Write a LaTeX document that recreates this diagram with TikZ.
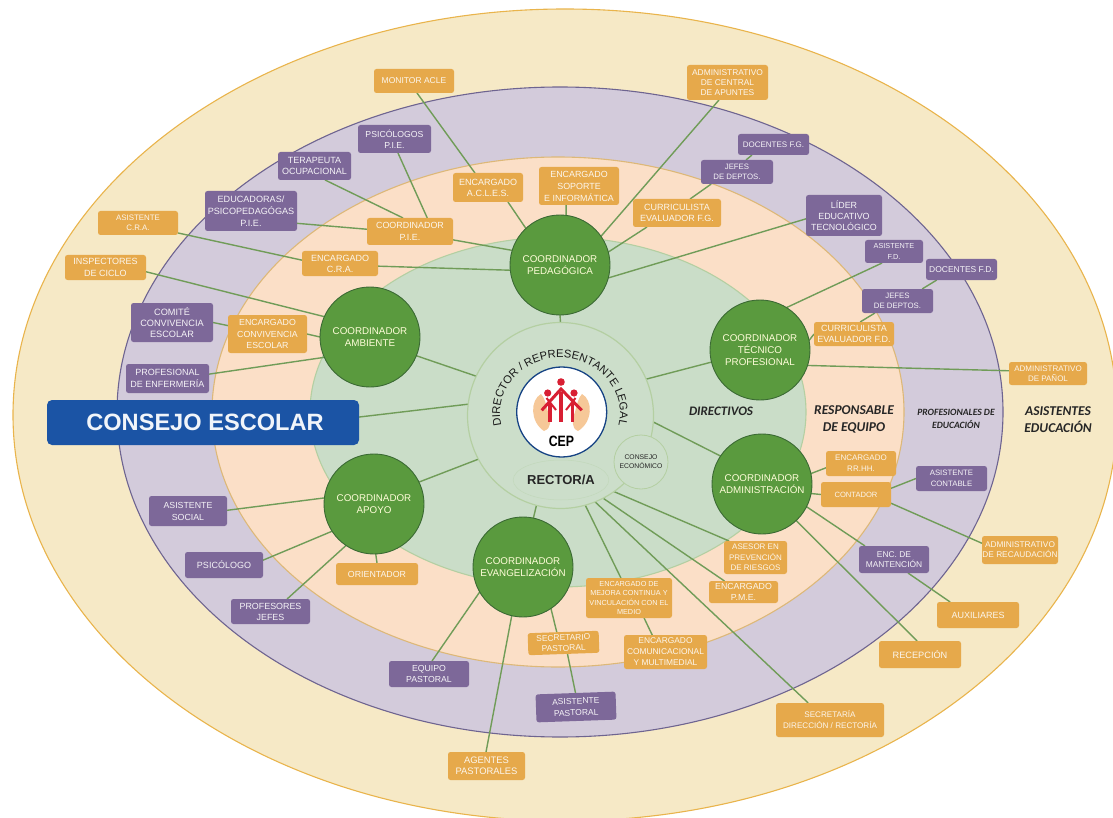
\documentclass[tikz,border=0pt]{standalone}
\usepackage{fontspec}
\setmainfont{Liberation Sans}
\newfontfamily\calib{Carlito}
\usetikzlibrary{shapes.geometric,decorations.text}
\pgfdeclarelayer{rings}
\pgfdeclarelayer{links}
\pgfsetlayers{rings,links,main}
\definecolor{cOut}{HTML}{F6E9C6}\definecolor{cOutL}{HTML}{E9B44C}
\definecolor{cPur}{HTML}{D3CBDB}\definecolor{cPurL}{HTML}{6E6490}
\definecolor{cPea}{HTML}{FBDFC7}\definecolor{cPeaL}{HTML}{DDB878}
\definecolor{cGre}{HTML}{CADDC8}\definecolor{cGreL}{HTML}{B4CFA2}
\definecolor{cOrg}{HTML}{E6A94B}\definecolor{cVio}{HTML}{7D6899}
\definecolor{cCirc}{HTML}{5A9A3E}\definecolor{cCircL}{HTML}{3B6A34}
\definecolor{cLink}{HTML}{709C58}\definecolor{cBlue}{HTML}{1B54A5}
\definecolor{cRed}{HTML}{D81F33}\definecolor{cHand}{HTML}{F6C898}
\tikzset{
  fs/.style 2 args={font=\fontsize{#1}{#2}\selectfont},
  boxbase/.style={rounded corners=2.5pt,inner sep=0pt,outer sep=0pt,align=center},
  obox/.style={boxbase,fill=cOrg,text=white!90!cOrg},
  pbox/.style={boxbase,fill=cVio,text=white!92!cVio},
  coordcirc/.style={circle,fill=cCirc,draw=cCircL,line width=.9pt,minimum size=100pt,inner sep=0pt,outer sep=0pt,align=center,text=white!85!yellow,fs={9.8}{12}},
  link/.style={draw=cLink,line width=1.4pt},
  ring/.style={line width=1.1pt},
  tag/.style={align=center,text=black!85,inner sep=0pt,font=\calib\bfseries\itshape\fontsize{13.5}{17}\selectfont},
}
\newcommand{\myBox}[7]{\node[#1,minimum width=#5pt,minimum height=#6pt] (#2) at (#3,#4) {#7};}
\begin{document}
\begin{tikzpicture}[x=1pt,y=-1pt]
\useasboundingbox (0,0) rectangle (1113,818);
\begin{pgfonlayer}{rings}
\begin{scope}
\clip (0,0) rectangle (1113,818);
\draw[ring,fill=cOut,draw=cOutL] (565,415) ellipse [x radius=552,y radius=406];
\draw[ring,fill=cPur,draw=cPurL] (560,412) ellipse [x radius=443,y radius=325];
\draw[ring,fill=cPea,draw=cPeaL] (558,412) ellipse [x radius=346,y radius=255];
\draw[ring,fill=cGre,draw=cGreL] (558,412) ellipse [x radius=248,y radius=175];
\end{scope}
\end{pgfonlayer}

% centre
\node[circle,minimum size=186pt,inner sep=0pt,outer sep=0pt,fill=cGre!96!white,draw=cGreL,line width=1.2pt] (dir) at (560.5,415.5) {};
\node[ellipse,minimum width=86pt,minimum height=40pt,inner sep=0pt,outer sep=0pt,draw=cGreL!35!cGre,line width=.5pt,fill=cGre!96!white,text=black!85,font=\bfseries\fontsize{13}{15}\selectfont] (rect) at (561,480) {RECTOR/A};
\node[circle,minimum size=54pt,inner sep=0pt,outer sep=0pt,draw=cGreL,line width=.8pt,fill=cGre!96!white,align=center,text=black!85,fs={6.8}{9}] (eco) at (641,462) {CONSEJO\\ECONÓMICO};
\node[circle,minimum size=90pt,inner sep=0pt,fill=white,draw=cBlue!80!black,line width=1.3pt] (logo) at (561.7,412) {};
% logo
\fill[cHand] (541,394) .. controls (530,400) and (530,422) .. (544,431) .. controls (552,428) and (551,420) .. (548,412) .. controls (546,405) and (545,398) .. (541,394) -- cycle;
\fill[cHand] (582,394) .. controls (593,400) and (593,422) .. (578,431) .. controls (571,428) and (572,420) .. (575,412) .. controls (577,405) and (578,398) .. (582,394) -- cycle;
\fill[cRed] (561,382) circle [radius=3.8];
\fill[cRed] (547.7,393) circle [radius=3.6];
\fill[cRed] (574,393) circle [radius=3.6];
\draw[cRed,line width=3pt] (541.7,410.3) -- (561,389) -- (581.7,410.3);
\draw[cRed,line width=3.2pt] (561,392) -- (561,422);
\draw[cRed,line width=3.2pt] (550,403) -- (550,422);
\draw[cRed,line width=3.2pt] (572.7,403) -- (572.7,422);
\draw[cRed,line width=2pt] (546.5,398) -- (556,410);
\draw[cRed,line width=2pt] (575.5,398) -- (566,410);
\node[inner sep=0pt,font=\bfseries\fontsize{15}{16}\selectfont] (cep) at (561.5,441) {\scalebox{.82}[1]{CEP}};
\path[decorate,decoration={text along path,text align=center,text={|\fontsize{11.2}{12}\selectfont\color{black!90}|DIRECTOR / REPRESENTANTE LEGAL}}]
  (508,440.5) arc [start angle=150,end angle=390,x radius=60,y radius=55];

% coordinators
\node[coordcirc] (ped) at (560,265) {COORDINADOR\\PEDAGÓGICA};
\node[coordcirc] (tec) at (760,350) {COORDINADOR\\TÉCNICO\\PROFESIONAL};
\node[coordcirc] (adm) at (762,484) {COORDINADOR\\ADMINISTRACIÓN};
\node[coordcirc] (eva) at (523,567) {COORDINADOR\\EVANGELIZACIÓN};
\node[coordcirc] (apo) at (374,504) {COORDINADOR\\APOYO};
\node[coordcirc] (amb) at (370,337) {COORDINADOR\\AMBIENTE};

% orange boxes
\myBox{obox,fs={8.5}{10}}{mon}{414}{81}{80}{24}{MONITOR ACLE}
\myBox{obox,fs={8.4}{10}}{central}{727.5}{82.5}{81}{35}{ADMINISTRATIVO\\DE CENTRAL\\DE APUNTES}
\myBox{obox,fs={7.9}{10}}{acra}{138}{223}{80}{24}{ASISTENTE\\C.R.A.}
\myBox{obox,fs={9}{12}}{insp}{105.5}{267.5}{81}{25}{INSPECTORES\\DE CICLO}
\myBox{obox,fs={9}{11}}{ecra}{340}{263.5}{76}{25}{ENCARGADO\\C.R.A.}
\myBox{obox,fs={8.9}{12}}{pie}{410}{231.5}{86}{27}{COORDINADOR\\P.I.E.}
\myBox{obox,fs={9}{11}}{acles}{488}{187.5}{70}{29}{ENCARGADO\\A.C.L.E.S.}
\myBox{obox,fs={8.9}{12}}{sop}{579}{186}{80}{38}{ENCARGADO\\SOPORTE\\E INFORMÁTICA}
\myBox{obox,fs={9}{11}}{cfg}{677}{213}{88}{28}{CURRICULISTA\\EVALUADOR F.G.}
\myBox{obox,fs={8.8}{11.5}}{conv}{267.5}{334}{79}{38}{ENCARGADO\\CONVIVENCIA\\ESCOLAR}
\myBox{obox,fs={9}{11}}{cfd}{854}{334}{80}{24}{CURRICULISTA\\EVALUADOR F.D.}
\myBox{obox,fs={8}{10}}{panol}{1048}{373.5}{78}{23}{ADMINISTRATIVO\\DE PAÑOL}
\myBox{obox,fs={8}{11}}{rrhh}{861}{463.5}{70}{25}{ENCARGADO\\RR.HH.}
\myBox{obox,fs={7.6}{10}}{cont}{856}{494.5}{70}{25}{CONTADOR}
\myBox{obox,fs={8.3}{10}}{recaud}{1020}{550}{76}{28}{ADMINISTRATIVO\\DE RECAUDACIÓN}
\myBox{obox,fs={8}{10.5}}{asesor}{755.5}{557.5}{63}{33}{ASESOR EN\\PREVENCIÓN\\DE RIESGOS}
\myBox{obox,fs={8.8}{10.5}}{pme}{743.5}{592}{69}{22}{ENCARGADO\\P.M.E.}
\myBox{obox,fs={9}{10}}{aux}{978}{615}{82}{26}{AUXILIARES}
\myBox{obox,fs={9.2}{10}}{recep}{920}{654.5}{82}{27}{RECEPCIÓN}
\myBox{obox,fs={8.1}{11}}{secr}{830}{720}{108}{34}{SECRETARÍA\\DIRECCIÓN / RECTORÍA}
\myBox{obox,fs={8.8}{10}}{orient}{377}{574}{82}{22}{ORIENTADOR}
\myBox{obox,fs={7.3}{9.6}}{mejora}{629}{598}{86}{40}{ENCARGADO DE\\MEJORA CONTINUA Y\\VINCULACIÓN CON EL\\MEDIO}
\myBox{obox,fs={8.4}{11}}{comun}{665.5}{652}{83}{34}{ENCARGADO\\COMUNICACIONAL\\Y MULTIMEDIAL}
\myBox{obox,fs={8.4}{10.5},rotate=2}{secp}{563.5}{643}{71}{22}{SECRETARIO\\PASTORAL}
\myBox{obox,fs={9.4}{11.5}}{agentes}{486.5}{766}{77}{28}{AGENTES\\PASTORALES}

% purple boxes
\myBox{pbox,fs={8.7}{11}}{psic}{394.5}{139}{73}{28}{PSICÓLOGOS\\P.I.E.}
\myBox{pbox,fs={9}{11}}{tera}{314.5}{166}{73}{28}{TERAPEUTA\\OCUPACIONAL}
\myBox{pbox,fs={9.1}{12}}{educ}{251}{211}{92}{40}{EDUCADORAS/\\PSICOPEDAGÓGAS\\P.I.E.}
\myBox{pbox,fs={9.2}{11}}{comite}{172}{322.5}{82}{39}{COMITÉ\\CONVIVENCIA\\ESCOLAR}
\myBox{pbox,fs={9}{12}}{enf}{167.5}{378.5}{83}{29}{PROFESIONAL\\DE ENFERMERÍA}
\myBox{pbox,fs={8}{10}}{dfg}{773.5}{144.5}{71}{21}{DOCENTES F.G.}
\myBox{pbox,fs={7.8}{9.5}}{jfg}{737}{172}{72}{24}{JEFES\\DE DEPTOS.}
\myBox{pbox,fs={8.9}{11}}{lider}{844}{215.5}{76}{41}{LÍDER\\EDUCATIVO\\TECNOLÓGICO}
\myBox{pbox,fs={7.3}{11}}{afd}{894}{251.5}{58}{23}{ASISTENTE\\F.D.}
\myBox{pbox,fs={8.5}{10}}{dfd}{961.5}{269.5}{71}{21}{DOCENTES F.D.}
\myBox{pbox,fs={7.8}{9.5}}{jfd}{897.5}{301}{71}{24}{JEFES\\DE DEPTOS.}
\myBox{pbox,fs={7.8}{11}}{acont}{951.5}{478.5}{71}{25}{ASISTENTE\\CONTABLE}
\myBox{pbox,fs={8.4}{10}}{mant}{894}{559.5}{70}{27}{ENC. DE\\MANTENCIÓN}
\myBox{pbox,fs={8.8}{12}}{asoc}{188}{511}{78}{30}{ASISTENTE\\SOCIAL}
\myBox{pbox,fs={9}{10}}{psi}{224}{565}{78}{26}{PSICÓLOGO}
\myBox{pbox,fs={8.9}{11}}{prof}{270.5}{611.5}{79}{25}{PROFESORES\\JEFES}
\myBox{pbox,fs={8.7}{10.5}}{equipo}{429}{674}{80}{26}{EQUIPO\\PASTORAL}
\myBox{pbox,fs={8.5}{11.5},rotate=2}{apas}{576}{707}{80}{28}{ASISTENTE\\PASTORAL}

% consejo
\node[rounded corners=5pt,fill=cBlue,text=white!94!cBlue,inner sep=0pt,outer sep=0pt,minimum width=312pt,minimum height=45pt,font=\bfseries\fontsize{23.6}{26}\selectfont] (cons) at (203,422.5) {\hspace{4pt}CONSEJO ESCOLAR};

% band labels
\node[tag,font=\calib\bfseries\itshape\fontsize{13}{17}\selectfont] (t1) at (721,411) {DIRECTIVOS};
\node[tag] (t2) at (854,419.5) {RESPONSABLE\\DE EQUIPO};
\node[tag,font=\calib\bfseries\itshape\fontsize{9.6}{13}\selectfont] (t3) at (956,418.5) {PROFESIONALES DE\\EDUCACIÓN};
\node[tag] (t4) at (1058,419.5) {ASISTENTES\\EDUCACIÓN};

% connectors
\begin{pgfonlayer}{links}
\draw[link] (mon.-76) -- (acles.132);
\draw[link] (acles.-36) -- (ped.133);
\draw[link] (sop.-124) -- (ped.83);
\draw[link] (central.-116) -- (ped.35);
\draw[link] (cfg.-155) -- (ped.15);
\draw[link] (cfg.47) -- (jfg.-155);
\draw[link] (jfg.53) -- (dfg.-154);
\draw[link] (lider.-175) -- (ped.-15);
\draw[link] (ped.-90) -- (dir.90);
\draw[link] (ecra.-4) -- (ped.-174);
\draw[link] (acra.-14) -- (ecra.175);
\draw[link] (pie.-11) -- (ped.163);
\draw[link] (educ.-15) -- (pie.177);
\draw[link] (tera.-53) -- (pie.117);
\draw[link] (psic.-76) -- (pie.38);
\draw[link] (insp.-6) -- (amb.156);
\draw[link] (comite.east) -- (conv.168);
\draw[link] (conv.east) -- (amb.west);
\draw[link] (enf.6) -- (amb.-156);
\draw[link] (amb.-22) -- (dir.155);
\draw[link] (cons.2) -- (dir.173.5);
\draw[link] (apo.26) -- (dir.-152);
\draw[link] (asoc.1) -- (apo.173);
\draw[link] (psi.7) -- (apo.-147);
\draw[link] (prof.37) -- (apo.-124);
\draw[link] (orient.north) -- (apo.-88);
\draw[link] (eva.78) -- (dir.-105);
\draw[link] (equipo.77) -- (eva.-150);
\draw[link] (agentes.92) -- (eva.-103);
\draw[link] (secp.120) -- (eva.-56);
\draw[link] (apas.north) -- (secp.-72);
\draw[link] (rect.-41) -- (mejora.112);
\draw[link] (mejora.-53) -- (comun.128);
\draw[link] (rect.-30) -- (secr.142);
\draw[link] (rect.-21) -- (pme.150);
\draw[link] (rect.-10) -- (asesor.148);
\draw[link] (dir.-63) -- (eco.-130);
\draw[link] (dir.23) -- (tec.-166.5);
\draw[link] (dir.-4.5) -- (adm.146);
\draw[link] (tec.11) -- (cfd.west);
\draw[link] (cfd.63) -- (jfd.-152);
\draw[link] (jfd.26) -- (dfd.-157);
\draw[link] (afd.-136) -- (tec.58);
\draw[link] (tec.-18) -- (panol.176);
\draw[link] (adm.12) -- (rrhh.-173);
\draw[link] (adm.-11) -- (cont.west);
\draw[link] (cont.10) -- (acont.west);
\draw[link] (cont.-14) -- (recaud.170);
\draw[link] (adm.-27) -- (mant.155);
\draw[link] (mant.-44) -- (aux.155);
\draw[link] (adm.-47) -- (recep.102);
\end{pgfonlayer}
\end{tikzpicture}
\end{document}
